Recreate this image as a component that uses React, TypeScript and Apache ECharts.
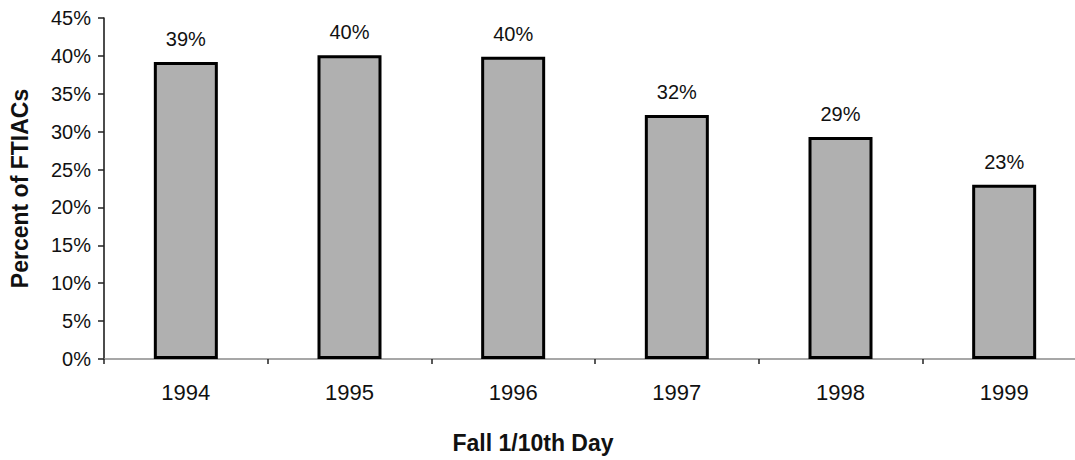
import React, { useEffect, useRef } from "react";
import * as echarts from "echarts";

const categories = ["1994", "1995", "1996", "1997", "1998", "1999"];
const values = [39.2, 40.1, 39.9, 32.2, 29.3, 23.0];
const yTicks = [0, 5, 10, 15, 20, 25, 30, 35, 40, 45];

export default function App() {
  const ref = useRef<HTMLDivElement>(null);
  useEffect(() => {
    document.body.style.margin = "0";
    document.body.style.overflow = "hidden";
    const chart = echarts.init(ref.current!, null, { renderer: "svg" });
    const font = "Liberation Sans, Arial, sans-serif";
    chart.setOption({
      animation: false,
      backgroundColor: "#ffffff",
      grid: { left: 104, right: 0, top: 18, bottom: 101, containLabel: false, outerBoundsMode: "none" },
      xAxis: {
        type: "category",
        data: categories,
        axisLine: { show: true, lineStyle: { color: "#8a8a8a", width: 1.5 } },
        axisTick: { show: true, length: 5, lineStyle: { color: "#222", width: 1.5 } },
        axisLabel: { color: "#111", fontSize: 22, fontFamily: font, margin: 22 },
      },
      yAxis: {
        type: "value",
        min: yTicks[0],
        max: yTicks[yTicks.length - 1],
        interval: 5,
        name: "Percent of FTIACs",
        nameLocation: "middle",
        nameGap: 73,
        nameTextStyle: { color: "#111", fontSize: 23, fontWeight: "bold", fontFamily: font },
        axisLine: { show: true, lineStyle: { color: "#111", width: 1.5 } },
        axisTick: { show: true, length: 6, lineStyle: { color: "#222", width: 1.5 } },
        axisLabel: { color: "#111", fontSize: 20, fontFamily: font, margin: 13, formatter: "{value}%" },
        splitLine: { show: false },
      },
      graphic: [
        {
          type: "text",
          x: 533,
          y: 443,
          style: {
            text: "Fall 1/10th Day",
            fill: "#111",
            fontSize: 23,
            fontWeight: "bold",
            fontFamily: font,
            textAlign: "center",
            textVerticalAlign: "middle",
          },
        },
      ],
      series: [
        {
          type: "bar",
          data: values,
          barWidth: 64,
          itemStyle: { color: "#b0b0b0", borderColor: "#000", borderWidth: 3 },
          label: {
            show: true,
            position: "top",
            distance: 13,
            color: "#111",
            fontSize: 20,
            fontFamily: font,
            formatter: (p: any) => Math.round(p.value) + "%",
          },
        },
      ],
    });
    return () => chart.dispose();
  }, []);
  return (
    <div style={{ width: 1075, height: 460, position: "absolute", left: 0, top: 0, overflow: "hidden" }}>
      <div ref={ref} style={{ width: 1086, height: 460 }} />
    </div>
  );
}
